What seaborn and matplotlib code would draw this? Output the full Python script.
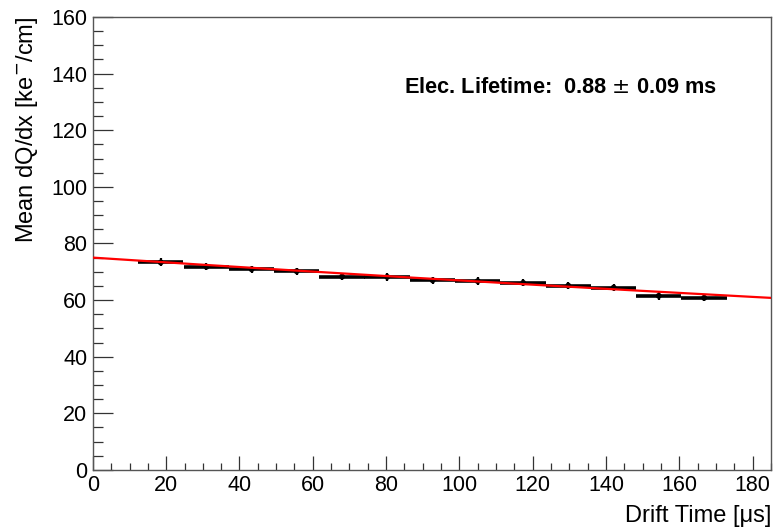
import numpy as np
import pandas as pd
import matplotlib
matplotlib.use("Agg")
import matplotlib.pyplot as plt
import seaborn as sns
from matplotlib.ticker import MultipleLocator

# binned mean dQ/dx vs drift time
bin_centers = [18.5, 31.0, 43.3, 55.6, 68.0, 80.3, 92.7, 105.0, 117.4, 129.7, 142.1, 154.4, 166.8]
bin_halfwidth = [6.2, 6.2, 6.2, 6.2, 6.2, 6.2, 6.2, 6.2, 6.2, 6.2, 6.2, 6.2, 6.2]
mean_dqdx = [73.3, 71.8, 70.9, 70.2, 68.3, 68.2, 67.0, 66.7, 66.1, 65.1, 64.4, 61.5, 60.8]
dqdx_err = [1.4, 1.3, 1.3, 1.3, 1.3, 1.3, 1.3, 1.3, 1.3, 1.3, 1.3, 1.3, 1.3]

# exponential fit parameters
fit_amp = 75.0      # ke-/cm at t=0
fit_tau = 880.0     # us  (0.88 ms)
fit_range = (0.0, 185.0)

df = pd.DataFrame({'t': bin_centers, 'dqdx': mean_dqdx, 'xerr': bin_halfwidth, 'yerr': dqdx_err})
tt = np.linspace(fit_range[0], fit_range[1], 200)
fit_df = pd.DataFrame({'t': tt, 'dqdx': fit_amp * np.exp(-tt / fit_tau)})

sns.set_theme(style="white")
plt.rcParams['font.family'] = ['Liberation Sans', 'DejaVu Sans']
plt.rcParams['text.color'] = 'black'

fig = plt.figure(figsize=(7.74, 5.31), dpi=100)
ax = fig.add_axes([0.120, 0.115, 0.876, 0.853])

ax.errorbar(df['t'], df['dqdx'], xerr=df['xerr'], fmt='none', ecolor='black',
            elinewidth=2.6, capsize=0, zorder=2)
ax.errorbar(df['t'], df['dqdx'], yerr=df['yerr'], fmt='none', ecolor='black',
            elinewidth=1.6, capsize=0, zorder=2)
sns.scatterplot(data=df, x='t', y='dqdx', color='black', s=18, edgecolor='none', ax=ax, zorder=3)
sns.lineplot(data=fit_df, x='t', y='dqdx', color='red', linewidth=1.6, ax=ax, zorder=4)

ax.set_xlim(0, 185)
ax.set_ylim(0, 160)
ax.xaxis.set_major_locator(MultipleLocator(20))
ax.xaxis.set_minor_locator(MultipleLocator(5))
ax.yaxis.set_major_locator(MultipleLocator(20))
ax.yaxis.set_minor_locator(MultipleLocator(5))
ax.tick_params(bottom=True, left=True, top=False, right=False, which='both')
ax.tick_params(axis='x', which='major', direction='in', length=9.8, width=0.9, colors='#333333',
               labelsize=15.5, labelcolor='black', pad=4)
ax.tick_params(axis='x', which='minor', direction='in', length=4.9, width=0.9, colors='#333333')
ax.tick_params(axis='y', which='major', direction='in', length=14.4, width=0.9, colors='#333333',
               labelsize=15.5, labelcolor='black', pad=4)
ax.tick_params(axis='y', which='minor', direction='in', length=7.2, width=0.9, colors='#333333')
for sp in ax.spines.values():
    sp.set_color('#555555')
    sp.set_linewidth(1.0)

ax.set_xlabel('Drift Time [μs]', fontsize=17, loc='right', labelpad=6, color='black')
ax.set_ylabel('Mean dQ/dx [ke$^{-}$/cm]', fontsize=17, loc='top', labelpad=8, color='black')

ax.text(85, 135, 'Elec. Lifetime:  0.88 $\\pm$ 0.09 ms', fontsize=15.7, fontweight='bold',
        ha='left', va='center', color='black')

fig.savefig('out.png', dpi=100)
